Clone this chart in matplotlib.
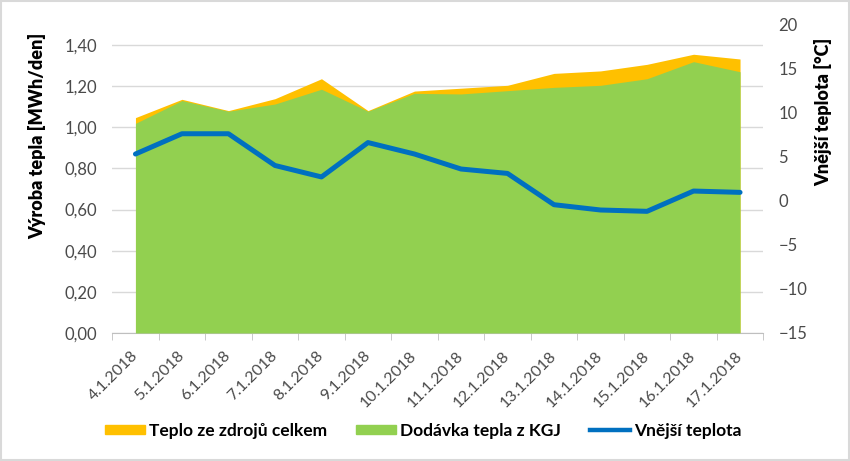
import numpy as np
import matplotlib.pyplot as plt
from matplotlib.lines import Line2D
from matplotlib.patches import Patch
from matplotlib.ticker import FuncFormatter, MultipleLocator, FixedLocator

# -- Data
dates = ['4.1.2018', '5.1.2018', '6.1.2018', '7.1.2018', '8.1.2018', '9.1.2018',
         '10.1.2018', '11.1.2018', '12.1.2018', '13.1.2018', '14.1.2018',
         '15.1.2018', '16.1.2018', '17.1.2018']
teplo_celkem = [1.047, 1.136, 1.081, 1.139, 1.236, 1.081, 1.176, 1.190,
                1.204, 1.262, 1.274, 1.306, 1.355, 1.332]
dodavka_kgj = [1.019, 1.130, 1.078, 1.113, 1.185, 1.078, 1.165, 1.162,
               1.178, 1.194, 1.204, 1.236, 1.319, 1.270]
vnejsi_teplota = [5.3, 7.6, 7.6, 4.0, 2.7, 6.6, 5.3, 3.6, 3.1, -0.45,
                  -1.05, -1.2, 1.1, 0.95]

# -- Colours
c_orange = '#FFC000'
c_green = '#92D050'
c_blue = '#0070C0'
c_grid = '#D9D9D9'
c_text = '#4A4A4A'

plt.rcParams['font.family'] = ['Lato', 'DejaVu Sans']

fig = plt.figure(figsize=(8.5, 4.61), dpi=100)
ax = fig.add_axes([0.132, 0.2777, 0.766, 0.6693])
bx = ax.twinx()

x = np.arange(len(dates))
ax.fill_between(x, 0, teplo_celkem, color=c_orange, lw=0, zorder=2)
ax.fill_between(x, 0, dodavka_kgj, color=c_green, lw=0, zorder=3)
bx.plot(x, vnejsi_teplota, color=c_blue, lw=3.6, solid_capstyle='round',
        solid_joinstyle='round', zorder=4)

# -- Left axis
ax.set_xlim(-0.5, len(dates) - 0.5)
ax.set_ylim(0, 1.5)
ax.yaxis.set_major_locator(FixedLocator(np.arange(0, 1.41, 0.2)))
ax.yaxis.set_major_formatter(FuncFormatter(lambda v, p: f'{v:.2f}'.replace('.', ',')))
ax.grid(axis='y', color=c_grid, lw=1.0, zorder=1)
ax.set_axisbelow(True)

# -- Right axis
bx.set_ylim(-15, 20)
bx.yaxis.set_major_locator(MultipleLocator(5))

# -- Axis titles
fig.text(37 / 850, 1 - 136 / 461, 'Výroba tepla [MWh/den]', rotation=90,
         ha='center', va='center', fontsize=13, fontweight='heavy')
fig.text(823 / 850, 1 - 112 / 461, 'Vnější teplota [°C]', rotation=90,
         ha='center', va='center', fontsize=13, fontweight='heavy')

# -- Category axis
ax.set_xticks(x)
ax.set_xticklabels(dates, rotation=45, ha='right', va='center',
                   rotation_mode='anchor', fontsize=11.5, color=c_text)
ax.xaxis.set_minor_locator(FixedLocator(np.arange(-0.5, len(dates), 1.0)))
ax.tick_params(axis='x', which='major', length=0, pad=15)
ax.tick_params(axis='x', which='minor', length=5, color='#BFBFBF')
ax.tick_params(axis='y', length=0, labelsize=12, labelcolor=c_text, pad=11)
bx.tick_params(axis='y', length=0, labelsize=12, labelcolor=c_text, pad=11)

for a in (ax, bx):
    for s in ('left', 'right', 'top'):
        a.spines[s].set_visible(False)
ax.spines['bottom'].set_color('#BFBFBF')
bx.spines['bottom'].set_visible(False)

# -- Legend
handles = [Patch(color=c_orange), Patch(color=c_green),
           Line2D([0], [0], color=c_blue, lw=3.2)]
labels = ['Teplo ze zdrojů celkem', 'Dodávka tepla z KGJ', 'Vnější teplota']
fig.legend(handles, labels, loc='center', bbox_to_anchor=(0.498, 0.066), ncol=3,
           frameon=False, handlelength=2.3, handleheight=0.4,
           handletextpad=0.2, columnspacing=1.7,
           prop={'weight': 'bold', 'size': 12.5})

# -- Chart border
fig.patches.append(plt.Rectangle((0.001, 0.002), 0.998, 0.996, transform=fig.transFigure,
                                 fill=False, edgecolor='#D9D9D9', lw=1.5))

fig.savefig('out.png', dpi=100)
